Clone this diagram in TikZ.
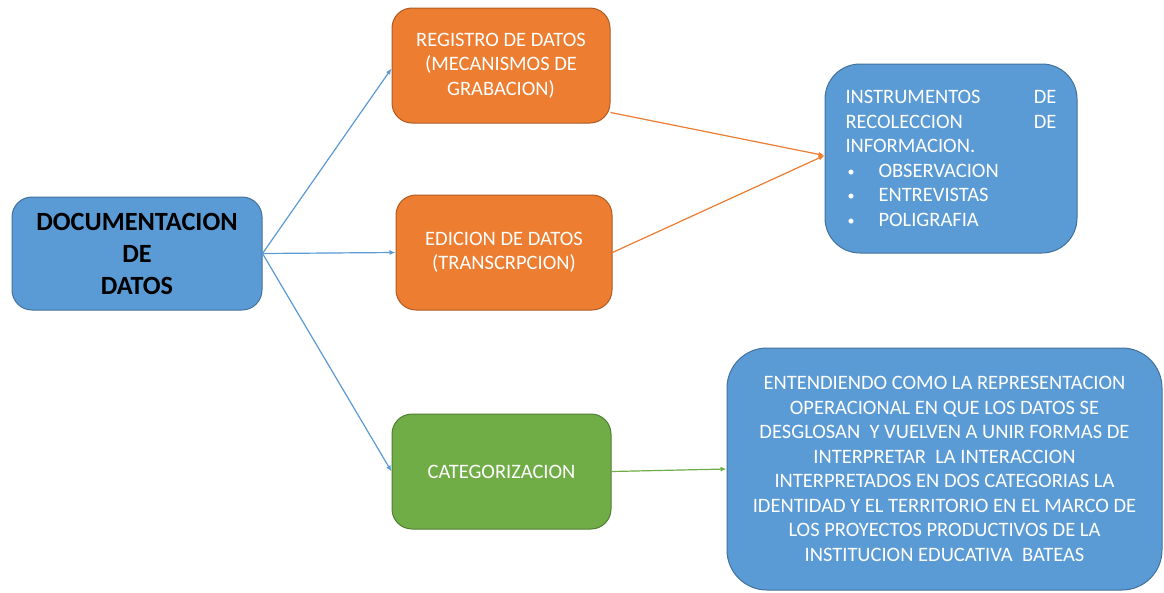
\documentclass[tikz,border=0pt]{standalone}
\usepackage{fontspec}
\setmainfont{Carlito}
\usetikzlibrary{arrows.meta}
\definecolor{boxblue}{HTML}{5B9BD5}
\definecolor{boxblueline}{HTML}{41719C}
\definecolor{boxorange}{HTML}{ED7D31}
\definecolor{boxorangeline}{HTML}{AE5A21}
\definecolor{boxgreen}{HTML}{70AD47}
\definecolor{boxgreenline}{HTML}{507E32}
\tikzset{
  basebox/.style={draw, line width=1pt, rounded corners=20pt, inner sep=0pt, align=center},
  bluebox/.style={basebox, fill=boxblue, draw=boxblueline},
  orangebox/.style={basebox, fill=boxorange, draw=boxorangeline, text=white, font=\fontsize{20.5}{24.5}\selectfont},
  greenbox/.style={basebox, fill=boxgreen, draw=boxgreenline, text=white, font=\fontsize{20.5}{24.5}\selectfont},
  conn/.style={line width=1.2pt, -{Latex[length=6pt,width=5pt]}},
  blueconn/.style={conn, draw=boxblue, fill=boxblue},
  orangeconn/.style={conn, draw=boxorange, fill=boxorange},
  greenconn/.style={conn, draw=boxgreen, fill=boxgreen}
}
\newcommand{\bulitem}{\makebox[33pt][l]{\hspace{2pt}\raisebox{1pt}{\fontsize{14}{14}\selectfont•}}}
\begin{document}
\begin{tikzpicture}[x=1pt,y=-1pt]
\useasboundingbox (0,0) rectangle (1164,592);
\node[bluebox, minimum width=250pt, minimum height=113pt, font=\fontsize{26.3}{32}\selectfont\bfseries] (doc) at (137,253.5) {DOCUMENTACION\\DE\\DATOS};
\node[orangebox, minimum width=218pt, minimum height=115pt] (reg) at (501,65.5) {REGISTRO DE DATOS\\(MECANISMOS DE\\GRABACION)};
\node[orangebox, minimum width=216pt, minimum height=115pt] (edi) at (504,252.5) {EDICION DE DATOS\\(TRANSCRPCION)};
\node[greenbox, minimum width=219pt, minimum height=115pt] (cat) at (501.5,471.5) {CATEGORIZACION};
\node[bluebox, rounded corners=35pt, minimum width=252pt, minimum height=189pt, text=white, font=\fontsize{20.5}{24.5}\selectfont, text width=211pt, align=left, inner xsep=20pt] (ins) at (951,158.5) {INSTRUMENTOS\hfill DE\\RECOLECCION\hfill DE\\INFORMACION.\\\bulitem OBSERVACION\\\bulitem ENTREVISTAS\\\bulitem POLIGRAFIA};
\node[bluebox, rounded corners=40pt, minimum width=435pt, minimum height=242pt, text=white, font=\fontsize{20.5}{24.5}\selectfont] (big) at (944.5,469) {ENTENDIENDO COMO LA REPRESENTACION\\OPERACIONAL EN QUE LOS DATOS SE\\DESGLOSAN\ \ Y VUELVEN A UNIR FORMAS DE\\INTERPRETAR\ \ LA INTERACCION\\INTERPRETADOS EN DOS CATEGORIAS LA\\IDENTIDAD Y EL TERRITORIO EN EL MARCO DE\\LOS PROYECTOS PRODUCTIVOS DE LA\\INSTITUCION EDUCATIVA\ \ BATEAS};
\draw[blueconn] (doc.east) -- ([yshift=-3pt]reg.west);
\draw[blueconn] (doc.east) -- (edi.west);
\draw[blueconn] (doc.east) -- (cat.west);
\draw[orangeconn] ([yshift=11pt]reg.south east) -- ([yshift=3pt]ins.west);
\draw[orangeconn] (edi.east) -- ([yshift=3pt]ins.west);
\draw[greenconn] (cat.east) -- (big.west);
\end{tikzpicture}
\end{document}
